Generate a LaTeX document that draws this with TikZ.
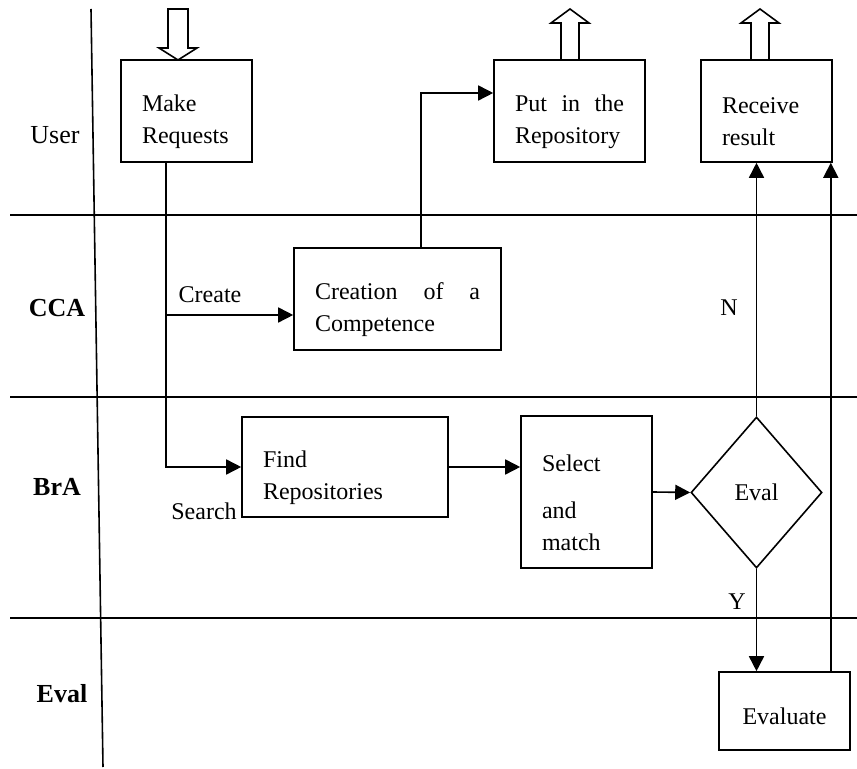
\documentclass[tikz,border=0pt]{standalone}
\usepackage{fontspec}
\setmainfont{Liberation Serif}
\usetikzlibrary{arrows.meta,shapes.geometric}
\newcommand{\lowertext}{\rule{0pt}{19pt}}

\begin{document}
\begin{tikzpicture}[
  x=0.5pt, y=-0.5pt, line width=0.8pt,
  proc/.style={rectangle, draw, minimum height=51pt, inner xsep=10.5pt,
               inner ysep=0pt, align=left, font=\fontsize{12}{16}\selectfont},
  decision/.style={diamond, draw, minimum width=65.5pt, minimum height=75.5pt,
                   inner sep=0pt, font=\fontsize{12}{16}\selectfont},
  lane/.style={font=\fontsize{13}{16}\selectfont\bfseries},
  lbl/.style={font=\fontsize{12}{16}\selectfont, inner sep=0pt},
  arr/.style={-{Triangle[length=7.5pt,width=7.5pt]}}
]
\useasboundingbox (0,0) rectangle (857,769);

% swim lanes
\foreach \y in {215,397,618}
  \draw (10,\y) -- (857,\y);
\draw (91,9) -- (103,767);

\node[lane, font=\fontsize{13}{16}\selectfont] (luser) at (55,135) {User};
\node[lane] (lcca) at (57,308) {CCA};
\node[lane] (lbra) at (57,487) {BrA};
\node[lane] (leval) at (62,694) {Eval};

% process boxes
\node[proc, text width=44.5pt] (req) at (186.5,111) {\lowertext Make\\Requests};
\node[proc, text width=54.5pt] (put) at (569.5,111) {\lowertext Put\hfill in\hfill the\\Repository};
\node[proc, text width=44.5pt] (recv) at (766.5,111) {\lowertext Receive\\result};
\node[proc, text width=82.5pt] (creat) at (397.5,299) {\lowertext Creation\hfill of\hfill a\\Competence};
\node[proc, text width=82pt, minimum height=50pt] (find) at (345,467) {\lowertext Find\\Repositories};
\node[proc, text width=44.5pt, minimum height=76pt] (sel) at (586.5,492) {\lowertext Select\\[7.5pt]and\\match};
\node[decision] (dia) at (756.5,492.5) {Eval};
\node[proc, text width=44.5pt, minimum height=39pt, align=center] (evalbox) at (784.5,711) {\rule{0pt}{14pt}Evaluate};

% hollow block arrows
\draw (168,9) -- (168,48) -- (159,48) -- (178,60) -- (197,48) -- (188,48) -- (188,9) -- cycle;
\foreach \cx in {570,760}
  \draw (\cx-9,60) -- (\cx-9,23) -- (\cx-19,23) -- (\cx,9) -- (\cx+19,23) -- (\cx+9,23) -- (\cx+9,60);

% flow
\coordinate (fork) at (165,315);
\draw[arr] ([xshift=-10.25pt]req.south) |- (find.west);
\draw[arr] (fork) -- (fork -| creat.west);
\node[lbl] (create) at (210,295) {Create};
\node[lbl] (search) at (204,511) {Search};
\draw[arr] ([xshift=11.75pt]creat.north) |- ([yshift=9pt]put.west);
\draw[arr] (find.east) -- (find.east -| sel.west);
\draw[arr] (sel.east) -- (dia.west);
\draw[arr] (dia.north) -- (dia.north |- recv.south);
\draw[arr] (dia.south) -- (dia.south |- evalbox.north);
\draw[arr] ([xshift=-1pt]recv.south east |- evalbox.north) -- ([xshift=-1pt]recv.south east);
\node[lbl] (no) at (729,308) {N};
\node[lbl] (yes) at (737,602) {Y};
\end{tikzpicture}
\end{document}
